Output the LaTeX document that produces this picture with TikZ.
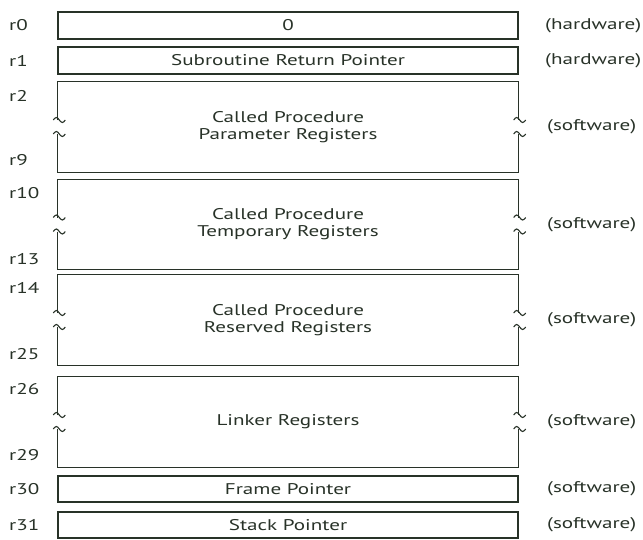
\documentclass[tikz,border=0pt]{standalone}
\usepackage{fontspec}
\setmainfont{PT Sans}[FakeStretch=1.36]
\usetikzlibrary{calc}
\definecolor{ink}{RGB}{40,50,40}
\begin{document}
\begin{tikzpicture}[x=1pt,y=-1pt,
  font=\fontsize{15.5}{17}\selectfont,
  every node/.style={text=ink},
  wall/.style={draw=ink, line width=1.1pt},
  regbox/.style={wall, minimum width=460pt, inner sep=0pt, align=center},
  bigbox/.style={minimum width=460pt, inner sep=0pt, align=center},
  regname/.style={anchor=west, inner sep=0pt},
  kind/.style={anchor=west, inner sep=0pt},
  brk/.pic={\draw[wall] (-6,0) sin (-3,-2.5) cos (0,0) sin (3,2.5) cos (6,0);}
]
\useasboundingbox (0,0) rectangle (643,539);

% single-register rows
\node[regbox, minimum height=27pt] (b0)  at (288,25.5) {0};
\node[regbox, minimum height=27pt] (b1)  at (288,60.5) {Subroutine Return Pointer};
\node[regbox, minimum height=26pt] (b30) at (288,489)  {Frame Pointer};
\node[regbox, minimum height=26pt] (b31) at (288,525)  {Stack Pointer};

% register groups, drawn open at the sides with break marks
\node[bigbox, minimum height=90pt] (b2)  at (288,127)   {Called Procedure\\Parameter Registers};
\node[bigbox, minimum height=89pt] (b10) at (288,224.5) {Called Procedure\\Temporary Registers};
\node[bigbox, minimum height=90pt] (b14) at (288,320)   {Called Procedure\\Reserved Registers};
\node[bigbox, minimum height=90pt] (b26) at (288,422)   {Linker Registers};

\foreach \g in {b2,b10,b14,b26}{
  \coordinate (\g-lu) at ($(\g.west)+(0,-7)$);
  \coordinate (\g-ld) at ($(\g.west)+(0,7)$);
  \coordinate (\g-ru) at ($(\g.east)+(0,-7)$);
  \coordinate (\g-rd) at ($(\g.east)+(0,7)$);
  \draw[wall] (\g-lu) -- (\g.north west) -- (\g.north east) -- (\g-ru);
  \draw[wall] (\g-ld) -- (\g.south west) -- (\g.south east) -- (\g-rd);
  \foreach \p in {lu,ld,ru,rd}{
    \pic at ($(\g-\p)+(1.5,0)$) {brk};
  }
}

% register numbers
\node[regname] at (9,25.5)  {r0};
\node[regname] at (9,60.5)  {r1};
\node[regname] at (9,96)    {r2};
\node[regname] at (9,160)   {r9};
\node[regname] at (9,193)   {r10};
\node[regname] at (9,259)   {r13};
\node[regname] at (9,288)   {r14};
\node[regname] at (9,354)   {r25};
\node[regname] at (9,389)   {r26};
\node[regname] at (9,455)   {r29};
\node[regname] at (9,489)   {r30};
\node[regname] at (9,525)   {r31};

% who maintains each group
\node[kind] at (545,25.5) {(hardware)};
\node[kind] at (545,60.5) {(hardware)};
\node[kind] at (547,127)  {(software)};
\node[kind] at (547,224.5){(software)};
\node[kind] at (547,320)  {(software)};
\node[kind] at (547,422)  {(software)};
\node[kind] at (547,489)  {(software)};
\node[kind] at (547,525)  {(software)};
\end{tikzpicture}
\end{document}
